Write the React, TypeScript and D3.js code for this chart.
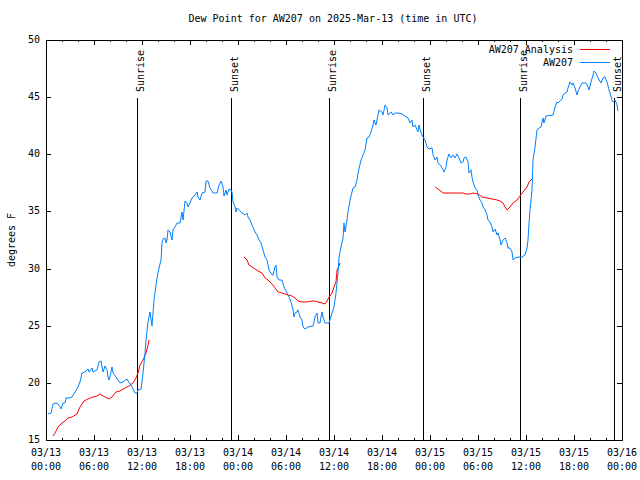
import React from "react";
import * as d3 from "d3";

const TITLE = "Dew Point for AW207 on 2025-Mar-13 (time in UTC)";
const Y_LABEL = "degrees F";
const START = Date.UTC(2025, 2, 13, 0, 0);

// hours since 03/13 00:00 UTC
const obsHours = [0.25,0.63,0.88,1.25,1.5,1.75,1.88,2.13,2.38,2.5,3.0,3.25,3.63,4.0,4.25,4.5,4.88,5.25,5.38,5.75,5.88,6.38,6.63,6.88,7.0,7.13,7.38,7.63,7.75,7.88,8.13,8.25,8.38,8.75,9.25,9.63,10.13,10.25,10.63,10.88,11.13,11.38,11.5,11.88,12.13,12.38,12.5,12.75,13.0,13.25,13.5,13.88,14.13,14.38,14.5,14.63,14.88,15.0,15.13,15.25,15.5,15.75,15.88,16.13,16.38,16.75,17.0,17.13,17.38,17.63,17.75,18.0,18.25,18.38,18.63,18.88,19.0,19.25,19.5,19.88,20.0,20.25,20.5,20.88,21.38,21.63,21.88,22.13,22.25,22.5,22.63,22.88,23.13,23.25,23.38,23.63,23.75,23.88,24.13,24.5,24.88,25.13,25.25,25.5,25.75,26.13,26.38,26.63,26.88,27.13,27.38,27.63,27.88,28.25,28.38,28.63,28.75,28.88,29.13,29.5,29.75,30.13,30.38,30.63,30.88,31.0,31.13,31.38,31.5,31.75,32.0,32.13,32.38,32.75,33.38,33.63,33.88,34.0,34.25,34.5,34.63,34.88,35.38,35.75,36.0,36.25,36.5,36.63,36.88,37.13,37.25,37.38,37.63,37.75,38.0,38.25,38.38,38.63,38.88,39.0,39.38,39.63,39.88,40.13,40.38,40.63,40.88,41.0,41.25,41.5,41.63,42.0,42.13,42.38,42.63,42.75,43.13,43.38,43.63,44.0,44.5,44.88,45.25,45.5,45.75,45.88,46.13,46.38,46.5,46.63,46.88,47.13,47.38,47.63,47.88,48.25,48.38,48.63,48.88,49.0,49.38,49.63,49.75,50.0,50.13,50.38,50.63,50.88,51.13,51.38,51.63,51.88,52.13,52.25,52.5,52.75,52.88,53.13,53.25,53.38,53.63,53.88,54.0,54.25,54.5,54.63,54.88,55.13,55.25,55.5,55.75,55.88,56.13,56.38,56.5,56.75,56.88,57.13,57.38,57.63,57.75,58.0,58.25,58.38,58.63,59.0,59.5,59.88,60.13,60.25,60.38,60.5,60.75,60.88,61.13,61.38,61.63,61.88,62.13,62.25,62.5,63.38,63.63,63.88,64.0,64.25,64.5,64.63,64.88,65.13,65.25,65.5,65.75,65.88,66.13,66.38,66.5,66.75,67.0,67.5,67.75,67.88,68.13,68.38,68.5,68.75,69.0,69.38,69.63,69.88,70.13,70.25,70.5,70.75,70.88,71.13,71.38,71.5];
const obsValues = [17.28,17.36,18.15,18.24,18.15,17.89,17.71,18.24,18.24,18.68,18.68,18.76,19.2,19.64,20.08,20.86,20.95,21.21,20.95,21.3,20.95,21.13,21.83,21.91,21.39,20.95,21.48,21.13,20.51,20.25,20.95,21.39,20.86,20.51,19.99,20.08,20.34,20.16,19.81,19.46,19.11,19.11,19.38,19.46,20.86,22.61,23.75,25.33,26.2,24.98,27.25,29.18,30.05,30.75,32.24,32.59,32.68,32.24,32.5,33.38,33.2,32.5,33.38,33.64,33.99,33.99,34.95,34.25,35.91,35.74,35.39,35.74,36.18,36.26,36.44,36.7,36.26,36.0,36.61,36.7,37.66,37.66,37.05,36.61,36.61,37.31,37.66,37.14,36.35,36.88,36.44,36.96,36.88,36.7,35.83,35.39,34.95,35.3,35.13,34.86,34.69,34.86,34.51,34.25,33.81,33.2,32.94,32.5,32.24,31.63,31.01,30.75,29.88,29.44,29.44,30.14,30.31,29.26,29.0,29.0,28.39,27.86,27.51,27.08,26.38,25.76,26.11,26.2,26.38,25.76,25.5,24.89,24.71,24.89,24.98,25.76,26.11,25.24,25.24,26.2,25.76,25.24,25.24,26.11,26.64,27.86,29.61,31.01,31.89,32.68,33.99,33.2,34.25,34.95,36.0,36.7,37.05,37.14,37.75,38.36,39.5,39.94,40.38,41.43,41.51,41.95,42.56,43.0,42.56,43.44,43.88,43.7,43.44,44.31,44.05,43.44,43.7,43.44,43.61,43.61,43.53,43.35,43.18,42.74,43.0,42.39,42.56,42.13,41.95,42.56,41.86,41.51,41.25,40.64,40.46,40.55,39.94,39.5,39.76,39.24,38.98,38.63,38.45,38.89,39.5,40.03,39.68,39.94,39.68,40.03,39.68,39.24,39.33,39.68,39.76,39.33,38.36,38.63,38.01,37.58,37.05,36.88,36.44,36.0,35.74,35.39,35.13,34.69,34.25,34.08,33.64,33.2,33.46,32.94,33.11,32.5,32.06,32.5,32.68,32.24,31.8,31.8,31.45,30.75,30.93,31.01,31.01,31.19,31.8,32.5,33.99,35.13,36.88,39.5,40.64,42.13,42.3,42.39,43.18,42.74,43.35,43.44,44.14,44.58,44.49,44.66,44.84,45.19,45.36,45.45,45.8,46.33,46.06,46.24,45.8,45.19,45.54,45.89,46.24,46.24,45.89,45.63,46.33,46.94,47.29,47.11,46.68,46.24,46.68,46.76,46.33,45.98,45.36,44.75,44.58,44.75,44.31,43.79];

// analysis runs (null = gap between runs)
const anaHours = [0.88,1.13,1.5,2.0,2.38,2.75,3.25,3.88,4.25,4.75,5.25,5.88,6.38,6.75,7.13,7.63,7.88,8.25,8.75,9.25,9.88,10.38,10.88,11.25,11.5,11.75,12.13,12.5,12.75,12.88,
  18.0,
  24.75,25.13,25.38,25.75,26.13,26.5,27.0,27.38,27.75,28.25,28.63,29.0,29.5,29.88,30.25,30.75,31.13,31.5,32.0,32.63,33.25,33.63,34.0,34.5,34.88,35.13,35.38,35.75,36.0,36.25,36.38,36.63,36.75,
  42.0,
  48.63,49.0,49.5,49.63,50.88,52.13,52.38,53.0,53.38,54.0,54.5,55.13,55.75,56.38,56.75,57.13,57.38,57.63,58.0,58.38,58.88,59.25,59.63,60.13,60.38,60.75];
const anaValues = [15.35,15.61,16.14,16.49,16.66,16.93,17.01,17.28,17.89,18.41,18.59,18.76,18.85,19.03,18.85,18.68,18.59,18.76,19.2,19.29,19.55,19.73,19.99,20.43,20.86,21.56,22.0,22.61,23.31,23.75,
  null,
  31.01,30.75,30.31,30.14,29.96,29.79,29.61,29.18,29.0,28.65,28.3,27.95,27.86,27.78,27.69,27.6,27.43,27.16,27.08,27.08,27.16,27.16,27.08,26.99,26.9,27.16,27.51,27.86,28.39,28.83,29.88,30.23,30.49,
  null,
  37.14,36.96,36.7,36.61,36.61,36.61,36.53,36.53,36.61,36.53,36.26,36.18,36.09,36.0,35.91,35.74,35.39,35.13,35.39,35.74,36.0,36.35,36.7,37.14,37.58,37.84];

const eventNames = ["Sunrise", "Sunset", "Sunrise", "Sunset", "Sunrise", "Sunset"];
const eventHours = [11.375, 23.125, 35.375, 47.125, 59.25, 71.0];

const yTicks = [15, 20, 25, 30, 35, 40, 45, 50];
const legendNames = ["AW207 Analysis", "AW207"];
const seriesColors = ["#ff0000", "#0080ff"];

const W = 640, H = 480;
const M = { left: 46, right: 622, top: 40, bottom: 440 };
const FONT = "'DejaVu Sans Mono', monospace";

const toDate = (h: number) => new Date(START + h * 3600 * 1000);

export default function App() {
  const x = d3.scaleUtc().domain([toDate(0), toDate(72)]).range([M.left, M.right]);
  const y = d3.scaleLinear().domain([15, 50]).range([M.bottom, M.top]);

  const majorX = d3.range(0, 73, 6).map(toDate);
  const minorX = d3.range(0, 73, 2).filter((h) => h % 6 !== 0).map(toDate);
  const fmtDay = d3.utcFormat("%m/%d");
  const fmtTime = d3.utcFormat("%H:%M");

  const obsLine = d3
    .line<number>()
    .x((_, i) => x(toDate(obsHours[i])))
    .y((v) => y(v))(obsValues);

  const anaLine = d3
    .line<number | null>()
    .defined((v) => v !== null)
    .x((_, i) => x(toDate(anaHours[i])))
    .y((v) => y(v as number))(anaValues);

  const crisp = (v: number) => Math.round(v) + 0.5;

  return (
    <svg
      width={W}
      height={H}
      style={{ position: "absolute", left: 0, top: 0, background: "#fff" }}
      fontFamily={FONT}
      fontSize={10}
    >
      <rect x={0} y={0} width={W} height={H} fill="#fff" />
      <text x={333} y={19} textAnchor="middle" dominantBaseline="middle">{TITLE}</text>
      <text transform={`translate(12,240) rotate(-90)`} textAnchor="middle" dominantBaseline="middle">{Y_LABEL}</text>

      {/* y ticks */}
      {yTicks.map((t) => (
        <g key={"y" + t} shapeRendering="crispEdges">
          <line x1={M.left} x2={M.left + 5} y1={crisp(y(t))} y2={crisp(y(t))} stroke="#000" />
          <line x1={M.right - 5} x2={M.right} y1={crisp(y(t))} y2={crisp(y(t))} stroke="#000" />
          <text x={40} y={y(t)} textAnchor="end" dominantBaseline="middle" shapeRendering="auto">{t}</text>
        </g>
      ))}

      {/* x ticks */}
      {majorX.map((d, i) => (
        <g key={"mx" + i} shapeRendering="crispEdges">
          <line x1={crisp(x(d))} x2={crisp(x(d))} y1={M.bottom} y2={M.bottom - 5} stroke="#000" />
          <line x1={crisp(x(d))} x2={crisp(x(d))} y1={M.top} y2={M.top + 5} stroke="#000" />
          <text x={x(d)} y={453} textAnchor="middle" dominantBaseline="middle">{fmtDay(d)}</text>
          <text x={x(d)} y={467} textAnchor="middle" dominantBaseline="middle">{fmtTime(d)}</text>
        </g>
      ))}
      {minorX.map((d, i) => (
        <g key={"nx" + i} shapeRendering="crispEdges">
          <line x1={crisp(x(d))} x2={crisp(x(d))} y1={M.bottom} y2={M.bottom - 2} stroke="#000" />
          <line x1={crisp(x(d))} x2={crisp(x(d))} y1={M.top} y2={M.top + 2} stroke="#000" />
        </g>
      ))}

      {/* sunrise / sunset */}
      {eventHours.map((h, i) => {
        const px = crisp(x(toDate(h)));
        return (
          <g key={"ev" + i}>
            <line x1={px} x2={px} y1={98} y2={M.bottom} stroke="#000" shapeRendering="crispEdges" />
            <text transform={`translate(${px + 6},92) rotate(-90)`} textAnchor="start">{eventNames[i]}</text>
          </g>
        );
      })}

      {/* data */}
      <path d={anaLine || ""} fill="none" stroke={seriesColors[0]} strokeWidth={1} />
      <path d={obsLine || ""} fill="none" stroke={seriesColors[1]} strokeWidth={1} />

      {/* legend */}
      {legendNames.map((n, i) => (
        <g key={"lg" + i}>
          <text x={573} y={50 + i * 13} textAnchor="end" dominantBaseline="middle">{n}</text>
          <line x1={580} x2={610} y1={49.5 + i * 13} y2={49.5 + i * 13} stroke={seriesColors[i]} shapeRendering="crispEdges" />
        </g>
      ))}

      {/* frame */}
      <rect x={M.left + 0.5} y={M.top + 0.5} width={M.right - M.left} height={M.bottom - M.top} fill="none" stroke="#000" shapeRendering="crispEdges" />
    </svg>
  );
}
